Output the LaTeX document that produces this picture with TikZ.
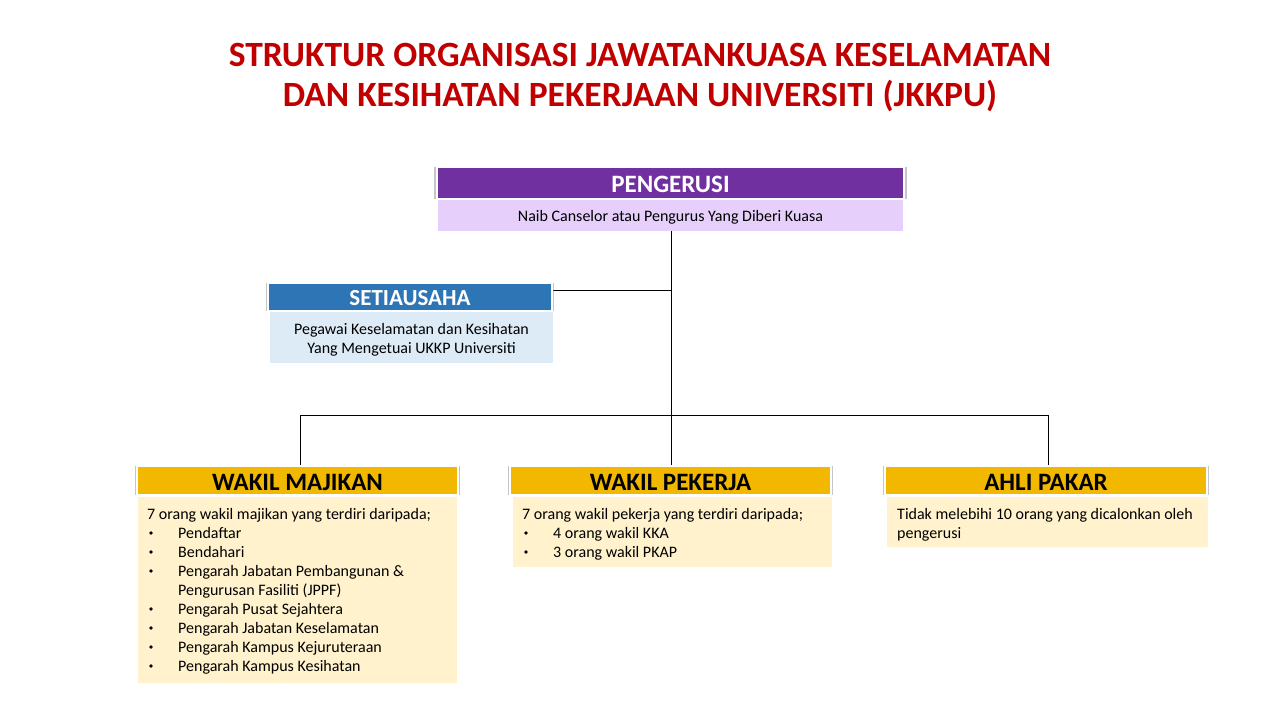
\documentclass[tikz,border=0pt]{standalone}
\usepackage{fontspec}
\setmainfont{Carlito}
\usetikzlibrary{shadows}
\definecolor{tred}{HTML}{C00000}
\definecolor{purp}{HTML}{7030A0}
\definecolor{lav}{HTML}{E6CFFA}
\definecolor{blu}{HTML}{2E75B6}
\definecolor{lblu}{HTML}{DDEBF7}
\definecolor{gold}{HTML}{F2B800}
\definecolor{cream}{HTML}{FFF2CC}
\tikzset{
 hdr/.style={draw=white,line width=2.5pt,drop shadow={shadow xshift=0pt,shadow yshift=0pt,shadow scale=1.012,opacity=0.45,fill=gray}},
 conn/.style={draw=black,line width=0.8pt},
 htext/.style={font=\fontsize{25}{26}\selectfont\bfseries}
}
\begin{document}
\begin{tikzpicture}[x=1pt,y=-1pt]
\useasboundingbox (0,0) rectangle (1280,720);
\fill[white] (0,0) rectangle (1280,720);
\node[text=tred,font=\fontsize{35.5}{40}\selectfont\bfseries,align=center] (title) at (640,78) {STRUKTUR ORGANISASI JAWATANKUASA KESELAMATAN\\DAN KESIHATAN PEKERJAAN UNIVERSITI (JKKPU)};
% bodies
\fill[lav] (438,199) rectangle (903,231);
\node[font=\fontsize{16}{18}\selectfont] (pb) at (670.5,217) {Naib Canselor atau Pengurus Yang Diberi Kuasa};
\fill[lblu] (270,311) rectangle (553,363);
\node[font=\fontsize{16}{19}\selectfont,align=center] (sb) at (411.5,340) {Pegawai Keselamatan dan Kesihatan\\Yang Mengetuai UKKP Universiti};
\fill[cream] (138,497) rectangle (457,683);
\fill[cream] (513,497) rectangle (832,567);
\fill[cream] (887,497) rectangle (1208,547);
% connectors
\coordinate (c1) at (671,231);
\coordinate (cs) at (671,290);
\coordinate (hl) at (300,415);
\coordinate (hr) at (1048,415);
\draw[conn] (c1) -- (671,465);
\draw[conn] (hl) -- (hr);
\draw[conn] (553,290) -- (cs);
\draw[conn] (hl) -- (300,465);
\draw[conn] (hr) -- (1048,465);
% headers
\path[hdr,fill=purp] (437,167) rectangle (904,199);
\node[htext,text=white] (ph) at (670.5,184) {PENGERUSI};
\path[hdr,fill=blu] (268,283) rectangle (552,311);
\node[htext,font=\fontsize{23}{24}\selectfont\bfseries,text=white] (sh) at (410,298) {SETIAUSAHA};
\path[hdr,fill=gold] (137,466) rectangle (458,495);
\node[htext] (wm) at (297.5,482) {WAKIL MAJIKAN};
\path[hdr,fill=gold] (510,466) rectangle (831,495);
\node[htext] (wp) at (670.5,482) {WAKIL PEKERJA};
\path[hdr,fill=gold] (885,466) rectangle (1207,495);
\node[htext] (ap) at (1046,482) {AHLI PAKAR};
% body texts
\begin{scope}[every node/.style={anchor=base west,font=\fontsize{16}{18}\selectfont,inner sep=0pt}]
\node (m0) at (147,519) {7 orang wakil majikan yang terdiri daripada;};
\foreach \t [count=\i] in {Pendaftar,Bendahari,Pengarah Jabatan Pembangunan \&,{},Pengarah Pusat Sejahtera,Pengarah Jabatan Keselamatan,Pengarah Kampus Kejuruteraan,Pengarah Kampus Kesihatan}{
  \node at (178,519+19*\i) {\t};
}
\foreach \i in {1,2,3,5,6,7,8}{\fill (151,514+19*\i) circle (1.8);}
\node at (178,595) {Pengurusan Fasiliti (JPPF)};
\node (p0) at (522,519) {7 orang wakil pekerja yang terdiri daripada;};
\fill (526,533) circle (1.8);\node at (553,538) {4 orang wakil KKA};
\fill (526,552) circle (1.8);\node at (553,557) {3 orang wakil PKAP};
\node (a0) at (897,519) {Tidak melebihi 10 orang yang dicalonkan oleh};
\node at (897,538) {pengerusi};
\end{scope}
\end{tikzpicture}
\end{document}
